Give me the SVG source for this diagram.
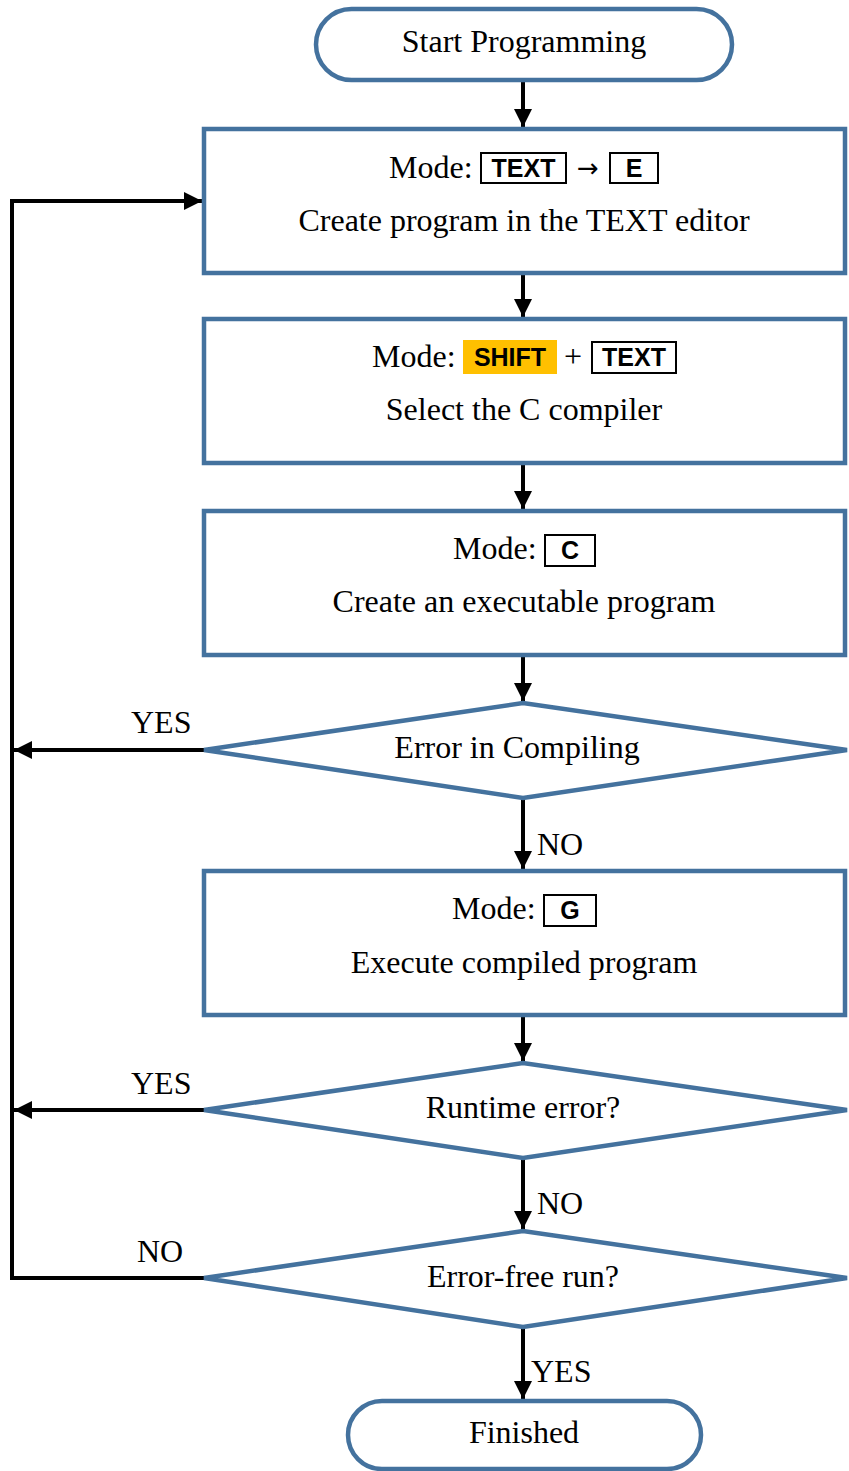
<svg xmlns="http://www.w3.org/2000/svg" width="849" height="1471" viewBox="0 0 849 1471">
<defs>
<style>
.sh{fill:#fff;stroke:#44729E;stroke-width:4.5}
.t{font-family:"Liberation Serif","Times New Roman",serif;font-size:32px;fill:#000;text-anchor:middle}
.lb{font-family:"Liberation Serif","Times New Roman",serif;font-size:32px;fill:#000}
.k{font-family:"Liberation Sans",Arial,sans-serif;font-weight:bold;font-size:25px;fill:#000;text-anchor:middle}
.kb{fill:#fff;stroke:#000;stroke-width:2}
.c{fill:none;stroke:#000;stroke-width:4}
.ar{font-family:"DejaVu Sans",sans-serif;font-size:26px;fill:#000;text-anchor:middle}
</style>
<marker id="ah" viewBox="0 0 10 10" refX="10" refY="5" markerWidth="4.5" markerHeight="4.5" orient="auto" markerUnits="strokeWidth">
<path d="M0,0 L10,5 L0,10 z" fill="#000"/>
</marker>
</defs>
<rect width="849" height="1471" fill="#fff"/>

<g id="connectors">
<line class="c" x1="523" y1="80" x2="523" y2="127" marker-end="url(#ah)"/>
<line class="c" x1="523" y1="273" x2="523" y2="317" marker-end="url(#ah)"/>
<line class="c" x1="523" y1="463" x2="523" y2="509" marker-end="url(#ah)"/>
<line class="c" x1="523" y1="655" x2="523" y2="701" marker-end="url(#ah)"/>
<line class="c" x1="523" y1="798" x2="523" y2="869" marker-end="url(#ah)"/>
<line class="c" x1="523" y1="1015" x2="523" y2="1061" marker-end="url(#ah)"/>
<line class="c" x1="523" y1="1158" x2="523" y2="1229" marker-end="url(#ah)"/>
<line class="c" x1="523" y1="1327" x2="523" y2="1399" marker-end="url(#ah)"/>
<line class="c" x1="204" y1="750" x2="14" y2="750" marker-end="url(#ah)"/>
<line class="c" x1="204" y1="1110" x2="14" y2="1110" marker-end="url(#ah)"/>
<polyline class="c" points="204,1278 12,1278 12,201 202,201" marker-end="url(#ah)"/>
<text class="lb" x="131" y="733">YES</text>
<text class="lb" x="537" y="855">NO</text>
<text class="lb" x="131" y="1094">YES</text>
<text class="lb" x="537" y="1214">NO</text>
<text class="lb" x="137" y="1262">NO</text>
<text class="lb" x="531" y="1382">YES</text>
</g>

<g id="start">
<rect class="sh" x="316" y="9" width="416" height="71" rx="35.5"/>
<text class="t" x="524" y="52">Start Programming</text>
</g>

<g id="box1">
<rect class="sh" x="204" y="129" width="641" height="144"/>
<text class="lb" x="389" y="178">Mode:</text>
<rect class="kb" x="481" y="153" width="85" height="30"/>
<text class="k" x="523.5" y="177">TEXT</text>
<text class="ar" x="588" y="177">→</text>
<rect class="kb" x="610" y="153" width="48" height="30"/>
<text class="k" x="634" y="177">E</text>
<text class="t" x="524" y="231">Create program in the TEXT editor</text>
</g>

<g id="box2">
<rect class="sh" x="204" y="319" width="641" height="144"/>
<text class="lb" x="372" y="367">Mode:</text>
<rect x="463" y="340" width="94" height="34" fill="#FFC000"/>
<text class="k" x="510" y="366">SHIFT</text>
<text class="lb" x="564" y="367">+</text>
<rect class="kb" x="592" y="342" width="84" height="31"/>
<text class="k" x="634" y="366">TEXT</text>
<text class="t" x="524" y="420">Select the C compiler</text>
</g>

<g id="box3">
<rect class="sh" x="204" y="511" width="641" height="144"/>
<text class="lb" x="453" y="559">Mode:</text>
<rect class="kb" x="545" y="535" width="50" height="31"/>
<text class="k" x="570" y="559">C</text>
<text class="t" x="524" y="612">Create an executable program</text>
</g>

<g id="dec1">
<polygon class="sh" points="204,750 523,703 847,750 523,798"/>
<text class="t" x="517" y="758">Error in Compiling</text>
</g>

<g id="box4">
<rect class="sh" x="204" y="871" width="641" height="144"/>
<text class="lb" x="452" y="919">Mode:</text>
<rect class="kb" x="544" y="895" width="52" height="31"/>
<text class="k" x="570" y="919">G</text>
<text class="t" x="524" y="973">Execute compiled program</text>
</g>

<g id="dec2">
<polygon class="sh" points="204,1110 523,1063 847,1110 523,1158"/>
<text class="t" x="523" y="1118">Runtime error?</text>
</g>

<g id="dec3">
<polygon class="sh" points="204,1278 523,1231 847,1278 523,1327"/>
<text class="t" x="523" y="1287">Error-free run?</text>
</g>

<g id="finish">
<rect class="sh" x="348" y="1401" width="353" height="68" rx="34"/>
<text class="t" x="524" y="1443">Finished</text>
</g>
</svg>
